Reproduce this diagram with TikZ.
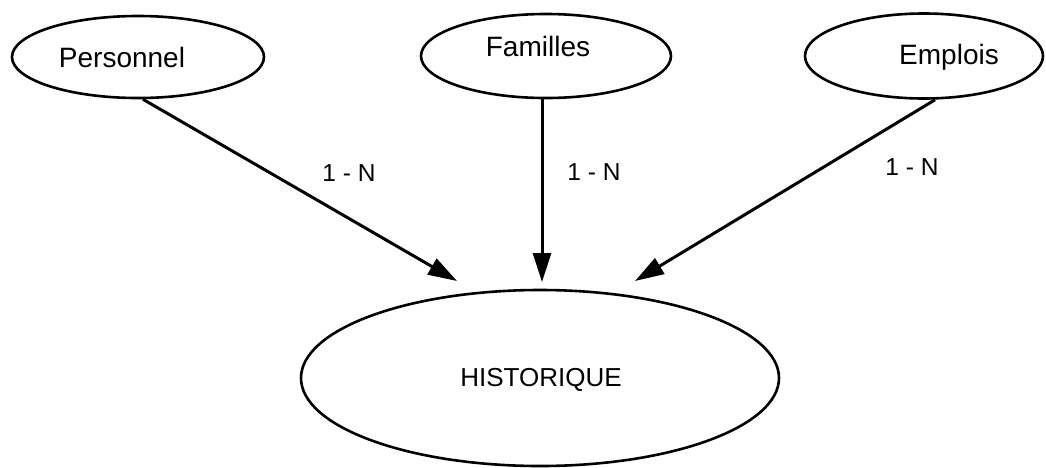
\documentclass[tikz,border=0pt]{standalone}
\usepackage{fontspec}
\setmainfont{Liberation Sans}
\usetikzlibrary{arrows.meta,shapes.geometric}
\begin{document}
\begin{tikzpicture}[x=1pt,y=-1pt,
  ent/.style={draw, line width=2.6pt, ellipse, inner sep=0pt},
  txt/.style={font=\fontsize{28}{32}\selectfont, inner sep=0pt},
  lbl/.style={font=\fontsize{24.5}{28}\selectfont, inner sep=0pt},
  rel/.style={line width=3pt, -{Triangle[length=29pt,width=18pt]}}]
\useasboundingbox (0,0) rectangle (1046,467);
\node[ent, minimum width=252pt, minimum height=82pt] (P) at (138,57) {};
\node[ent, minimum width=250pt, minimum height=84pt] (F) at (546,56) {};
\node[ent, minimum width=238pt, minimum height=85pt] (E) at (924,56) {};
\node[ent, minimum width=478pt, minimum height=176pt] (H) at (540,378) {};
\node[txt] (Pt) at (122,57) {Personnel};
\node[txt] (Ft) at (538,46) {Familles};
\node[txt] (Et) at (949,57) {Emplois};
\node[txt, font=\fontsize{26}{30}\selectfont] (Ht) at (541,380) {HISTORIQUE};
\coordinate (t1) at (457,281);
\coordinate (t2) at (542,282);
\coordinate (t3) at (635,281);
\draw[rel] ([xshift=5pt]P.south) -- (t1);
\draw[rel] ([xshift=-4pt]F.south) -- (t2);
\draw[rel] ([xshift=11pt]E.south) -- (t3);
\node[lbl] (L1) at (349,173) {1 - N};
\node[lbl] (L2) at (594,172) {1 - N};
\node[lbl] (L3) at (912,167) {1 - N};
\end{tikzpicture}
\end{document}
